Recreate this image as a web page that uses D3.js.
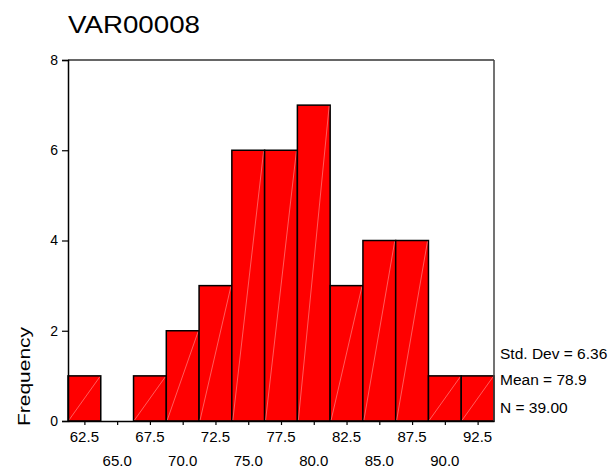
<!DOCTYPE html>
<html>
<head>
<meta charset="utf-8">
<script src="https://cdn.jsdelivr.net/npm/d3@7"></script>
<style>
  body { margin: 0; background: #fff; }
  svg text { font-family: Arial, "Liberation Sans", sans-serif; fill: #000; }
</style>
</head>
<body>
<svg id="chart" width="610" height="467"></svg>
<script>
// bin midpoints and counts
const binMids = [62.5, 65.0, 67.5, 70.0, 72.5, 75.0, 77.5, 80.0, 82.5, 85.0, 87.5, 90.0, 92.5];
const counts = [1, 0, 1, 2, 3, 6, 6, 7, 3, 4, 4, 1, 1];
const binWidth = 2.5;
const yTicks = [0, 2, 4, 6, 8];
const stats = ["Std. Dev = 6.36", "Mean = 78.9", "N = 39.00"];

const svg = d3.select("#chart");

const x = d3.scaleLinear()
    .domain([61.25, 93.75])
    .range([68, 494]);

const y = d3.scaleLinear()
    .domain([0, 8])
    .range([421, 60]);

// title
svg.append("text")
    .attr("x", 68)
    .attr("y", 33)
    .attr("font-size", 24)
    .attr("textLength", 132)
    .attr("lengthAdjust", "spacingAndGlyphs")
    .text("VAR00008");

// bars
const bars = svg.append("g");
binMids.forEach(function (m, i) {
    if (counts[i] == 0) return;
    const x0 = x(m - binWidth / 2), x1 = x(m + binWidth / 2);
    bars.append("rect")
        .attr("x", x0)
        .attr("y", y(counts[i]))
        .attr("width", x1 - x0)
        .attr("height", y(0) - y(counts[i]))
        .attr("fill", "#ff0000")
        .attr("stroke", "#000")
        .attr("stroke-width", 1.5);
    // faint diagonal line inside each bar
    bars.append("line")
        .attr("x1", x0 + 1)
        .attr("y1", y(0) - 1)
        .attr("x2", x1 - 1)
        .attr("y2", y(counts[i]) + 1)
        .attr("stroke", "#ff9a9a")
        .attr("stroke-width", 0.6);
});

// frame
svg.append("line")
    .attr("x1", x.range()[0]).attr("x2", x.range()[1])
    .attr("y1", y(8)).attr("y2", y(8))
    .attr("stroke", "#333").attr("stroke-width", 1.5);
svg.append("line")
    .attr("x1", x.range()[1]).attr("x2", x.range()[1])
    .attr("y1", y(8)).attr("y2", y(0))
    .attr("stroke", "#444").attr("stroke-width", 1.5);

// y axis
const yAxis = svg.append("g")
    .attr("transform", "translate(" + x.range()[0] + ",0)")
    .call(d3.axisLeft(y).tickValues(yTicks).tickSize(6).tickPadding(4).tickFormat(d3.format("d")));
yAxis.select(".domain").attr("stroke", "#000").attr("stroke-width", 1.5);
yAxis.selectAll(".tick line").attr("stroke", "#000").attr("stroke-width", 1.2);
yAxis.selectAll("text").attr("font-size", 14).attr("font-family", "Arial, 'Liberation Sans', sans-serif");

// x axis
const xAxis = svg.append("g")
    .attr("transform", "translate(0," + y(0) + ")")
    .call(d3.axisBottom(x).tickValues(binMids).tickSize(4).tickSizeOuter(0).tickFormat(""));
xAxis.select(".domain").attr("stroke", "#000").attr("stroke-width", 1.5);
xAxis.selectAll(".tick line").attr("stroke", "#000").attr("stroke-width", 1.2);

// staggered tick labels
svg.append("g").selectAll("text")
    .data(binMids)
    .enter()
    .append("text")
    .attr("x", d => x(d))
    .attr("y", (d, i) => i % 2 == 0 ? 442 : 465.5)
    .attr("text-anchor", "middle")
    .attr("font-size", 15)
    .text(d => d.toFixed(1));

// y label
svg.append("text")
    .attr("transform", "translate(30,376.5) rotate(-90)")
    .attr("text-anchor", "middle")
    .attr("font-size", 16)
    .attr("textLength", 99)
    .attr("lengthAdjust", "spacingAndGlyphs")
    .text("Frequency");

// stats
svg.append("g").selectAll("text")
    .data(stats)
    .enter()
    .append("text")
    .attr("x", 500)
    .attr("y", (d, i) => [359.3, 385, 412.7][i])
    .attr("font-size", 15.5)
    .text(d => d);
</script>
</body>
</html>
